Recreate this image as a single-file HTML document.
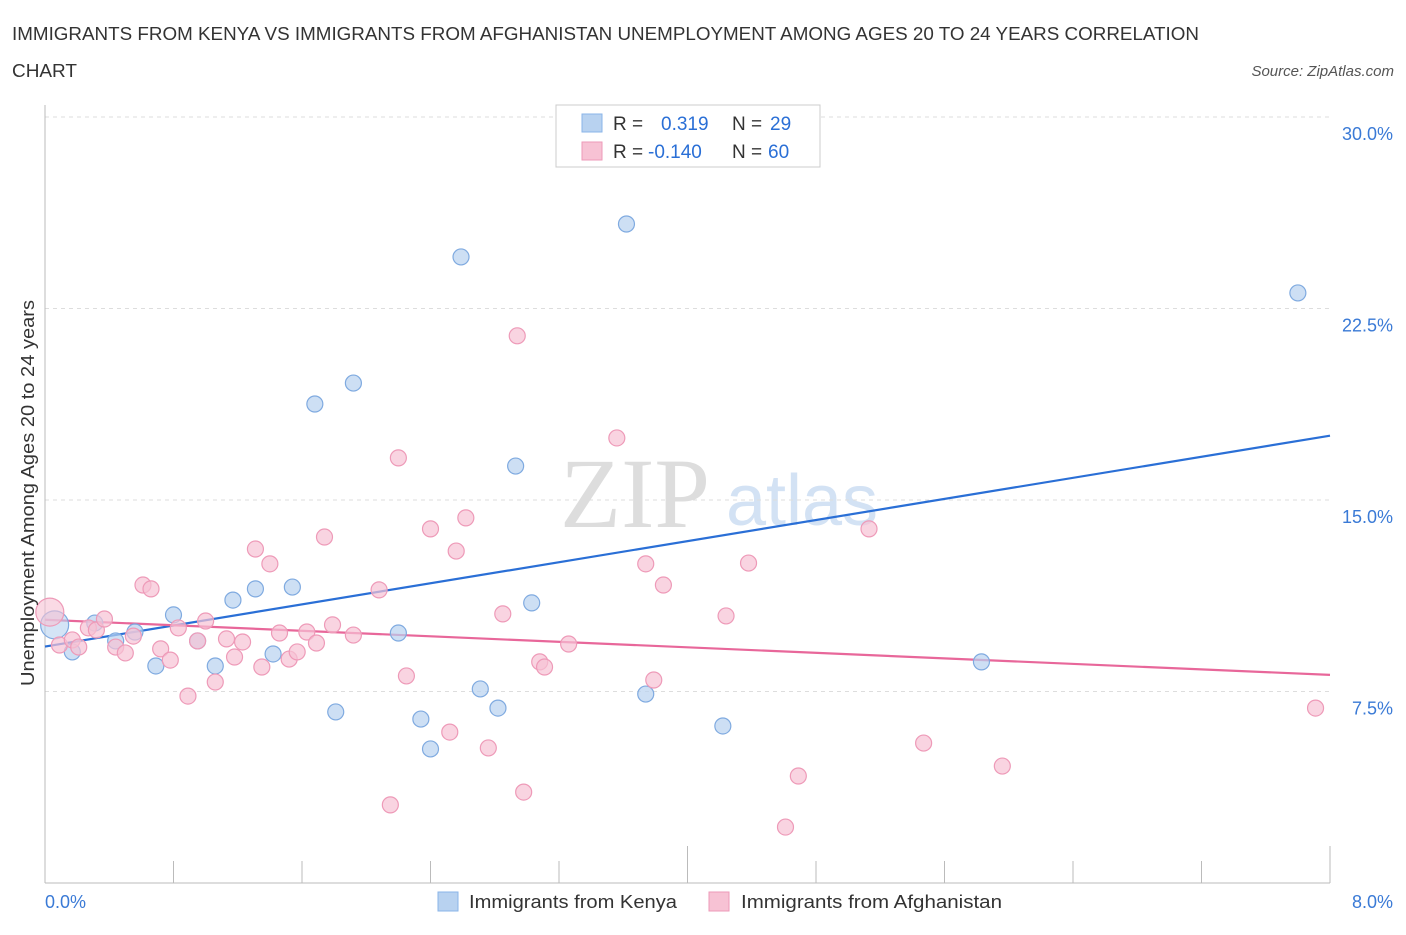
<!DOCTYPE html>
<html><head><meta charset="utf-8"><style>
body{margin:0;background:#fff;font-family:"Liberation Sans",sans-serif;}
</style></head><body>
<svg width="1406" height="930" viewBox="0 0 1406 930" font-family="Liberation Sans, sans-serif">
<text x="12" y="40" font-size="18" fill="#333" textLength="1187" lengthAdjust="spacingAndGlyphs">IMMIGRANTS FROM KENYA VS IMMIGRANTS FROM AFGHANISTAN UNEMPLOYMENT AMONG AGES 20 TO 24 YEARS CORRELATION</text>
<text x="12" y="77" font-size="18" fill="#333" textLength="65" lengthAdjust="spacingAndGlyphs">CHART</text>
<text x="1394" y="76" font-size="15" fill="#555" font-style="italic" text-anchor="end">Source: ZipAtlas.com</text>
<g><text x="635" y="527" font-size="100" fill="#ddd" style="font-family:'Liberation Serif',serif" text-anchor="middle">ZIP</text><text x="802" y="525" font-size="72" fill="#d3e2f4" text-anchor="middle">atlas</text></g>
<g id="grid"></g><g id="axes"></g><g id="lines"></g><g id="pts"></g>
<text transform="translate(34,493) rotate(-90)" font-size="18" fill="#333" text-anchor="middle" textLength="386" lengthAdjust="spacingAndGlyphs">Unemployment Among Ages 20 to 24 years</text>
<text x="45" y="908" font-size="18" fill="#3a7ad6">0.0%</text>
<text x="1393" y="908" font-size="18" fill="#3a7ad6" text-anchor="end">8.0%</text>
<g>
<rect x="556" y="105" width="264" height="62" fill="#fff" stroke="#ccc"/>
<rect x="582" y="114" width="20" height="18" fill="#b8d2f0" stroke="#8ab4e8"/>
<rect x="582" y="142" width="20" height="18" fill="#f7c2d4" stroke="#ee9ab8"/>
<text x="613" y="130" font-size="19" fill="#333">R =</text><text x="661" y="130" font-size="19" fill="#2a6fd6">0.319</text>
<text x="732" y="130" font-size="19" fill="#333">N =</text><text x="770" y="130" font-size="19" fill="#2a6fd6">29</text>
<text x="613" y="158" font-size="19" fill="#333">R =</text><text x="648" y="158" font-size="19" fill="#2a6fd6">-0.140</text>
<text x="732" y="158" font-size="19" fill="#333">N =</text><text x="768" y="158" font-size="19" fill="#2a6fd6">60</text>
</g>
<g>
<rect x="438" y="892" width="20" height="19" fill="#b8d2f0" stroke="#8ab4e8"/>
<text x="469" y="908" font-size="18" fill="#333" textLength="208" lengthAdjust="spacingAndGlyphs">Immigrants from Kenya</text>
<rect x="709" y="892" width="20" height="19" fill="#f7c2d4" stroke="#ee9ab8"/>
<text x="741" y="908" font-size="18" fill="#333" textLength="261" lengthAdjust="spacingAndGlyphs">Immigrants from Afghanistan</text>
</g>
</svg>
<script>
const yTicks=[7.5,15,22.5,30];
const yTickLabels=["7.5%","15.0%","22.5%","30.0%"];
const xTicks=[0,0.8,1.6,2.4,3.2,4.0,4.8,5.6,6.4,7.2,8.0];
const kenyaX=[0.06,0.17,0.31,0.44,0.56,0.69,0.80,0.95,1.06,1.17,1.31,1.42,1.54,1.68,1.81,1.92,2.20,2.34,2.40,2.59,2.71,2.82,2.93,3.03,3.62,3.74,4.22,5.83,7.80];
const kenyaY=[10.11,9.05,10.18,9.48,9.83,8.50,10.50,9.48,8.50,11.08,11.52,8.97,11.59,18.76,6.70,19.58,9.79,6.42,5.25,24.52,7.60,6.85,16.33,10.97,25.81,7.40,6.15,8.66,23.11];
const afgX=[0.03,0.09,0.17,0.21,0.27,0.32,0.37,0.44,0.50,0.55,0.61,0.66,0.72,0.78,0.83,0.89,0.95,1.00,1.06,1.13,1.18,1.23,1.31,1.35,1.40,1.46,1.52,1.57,1.63,1.69,1.74,1.79,1.92,2.08,2.15,2.20,2.25,2.40,2.52,2.56,2.62,2.76,2.85,2.94,2.98,3.08,3.11,3.26,3.56,3.74,3.79,3.85,4.24,4.38,4.61,4.69,5.13,5.47,5.96,7.91];
const afgY=[10.61,9.32,9.52,9.24,9.99,9.91,10.34,9.24,9.01,9.67,11.67,11.52,9.17,8.73,9.99,7.32,9.48,10.26,7.87,9.56,8.85,9.44,13.08,8.46,12.50,9.79,8.77,9.05,9.83,9.40,13.55,10.11,9.71,11.48,3.06,16.65,8.11,13.87,5.91,13.00,14.30,5.29,10.54,21.43,3.56,8.66,8.46,9.36,17.43,12.50,7.95,11.67,10.46,12.53,2.19,4.19,13.87,5.48,4.58,6.85];
const kenyaTrend=[[0,9.26],[8,17.52]];
const afgTrend=[[0,10.31],[8,8.15]];
const NS="http://www.w3.org/2000/svg";
const X=v=>45+v*160.625, Y=v=>883-v*25.533;
function mk(tag,attrs,parent){const e=document.createElementNS(NS,tag);for(const k in attrs)e.setAttribute(k,attrs[k]);document.getElementById(parent).appendChild(e);return e;}
yTicks.forEach((t,i)=>{
 const g=mk('line',{x1:45,x2:1330,y1:Y(t),y2:Y(t),stroke:'#ddd','stroke-dasharray':'4,4'},'grid');
 
 
 const l=mk('text',{x:1393,y:Y(t)+23,'font-size':18,fill:'#3a7ad6','text-anchor':'end'},'grid');
 l.textContent=yTickLabels[i];
 
 
});
const ax=mk('line',{x1:45,x2:1330,y1:883,y2:883,stroke:'#bbb'},'axes');


const ay=mk('line',{x1:45,x2:45,y1:105,y2:883,stroke:'#bbb'},'axes');


xTicks.forEach((t,i)=>{
 const big=(i===5||i===10);
 const tk=mk('line',{x1:X(t),x2:X(t),y1:big?846:861,y2:883,stroke:'#bbb'},'axes');
 
 
});
function pts(xs,ys,fill,stroke,name){
 xs.forEach((x,i)=>{
  const big=i===0;
  const c=mk('circle',{cx:X(x),cy:Y(ys[i]),r:big?14:8,fill:fill,'fill-opacity':big?0.6:0.7,stroke:stroke,'stroke-width':1.2},'pts');
  
  
 });
}
pts(kenyaX,kenyaY,'#b8d2f0','#7faae0','kenya-point');
pts(afgX,afgY,'#f7c2d4','#ee9ab8','afghanistan-point');
const l1=mk('line',{x1:X(kenyaTrend[0][0]),y1:Y(kenyaTrend[0][1]),x2:X(kenyaTrend[1][0]),y2:Y(kenyaTrend[1][1]),stroke:'#2a6fd6','stroke-width':2.2},'lines');


const l2=mk('line',{x1:X(afgTrend[0][0]),y1:Y(afgTrend[0][1]),x2:X(afgTrend[1][0]),y2:Y(afgTrend[1][1]),stroke:'#e8679a','stroke-width':2.2},'lines');


</script>
</body></html>
